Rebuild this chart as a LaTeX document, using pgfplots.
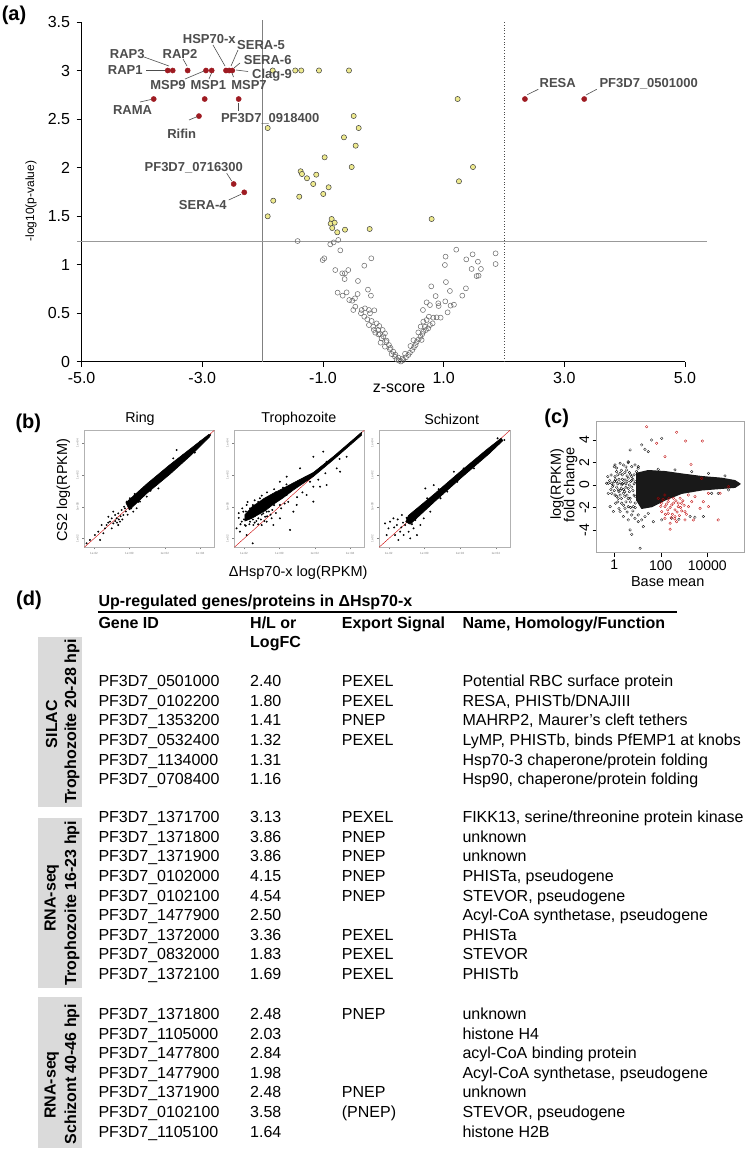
\documentclass[border=0pt]{standalone}
\usepackage{fontspec}
\setmainfont{Liberation Sans}
\usepackage{pgfplots}
\pgfplotsset{compat=1.18}
\definecolor{dred}{HTML}{9E1B22}
\definecolor{ylw}{HTML}{EEEA8E}
\definecolor{lblgray}{HTML}{4D4D4D}
\definecolor{boxgray}{HTML}{DADADA}
\newcommand{\fs}[1]{\fontsize{#1}{#1}\selectfont}
\newcommand{\lab}[3]{\node[font=\bfseries\fs{13}, text=lblgray, inner sep=0pt] at (#1pt,-#2pt) {#3};}
\newcommand{\lline}[4]{\draw[lblgray, line width=0.6pt] (#1pt,-#2pt) -- (#3pt,-#4pt);}
\newcommand{\trow}[5]{%
 \node[anchor=base west, font=\fs{16}, inner sep=0pt] at (98.3pt,-#1pt) {#2};
 \node[anchor=base west, font=\fs{16}, inner sep=0pt] at (250pt,-#1pt) {#3};
 \node[anchor=base west, font=\fs{16}, inner sep=0pt] at (341.7pt,-#1pt) {#4};
 \node[anchor=base west, font=\fs{16}, inner sep=0pt] at (462.3pt,-#1pt) {#5};}
\pgfplotsset{scat/.style={scale only axis, width=130pt, height=117pt,
  xmin=-2.55, xmax=4.8, ymin=-2.55, ymax=4.8,
  axis line style={gray!60, line width=0.6pt},
  xtick={-2,0,2,4}, ytick={-2,0,2,4},
  xticklabels={1e-02,1e+00,1e+02,1e+04}, yticklabels={1e-02,1e+00,1e+02,1e+04},
  tick align=outside, major tick length=2pt, tick style={gray, line width=0.4pt},
  tick pos=left, tick label style={font=\fs{3}, text=gray},
  yticklabel style={rotate=90, anchor=south},
  clip=true},
  band/.style={fill=black, draw=black, line width=0.6pt, line join=round},
  dots/.style={only marks, mark=*, mark size=0.75pt, black}}
\begin{document}
\begin{tikzpicture}
\path[use as bounding box] (0pt,0pt) rectangle (750pt,-1151pt);

% ---------------- (a) ----------------
\begin{axis}[at={(81.6pt,-361.5pt)}, anchor=south west, scale only axis,
  width=603.4pt, height=339.5pt, xmin=-5, xmax=5, ymin=0, ymax=3.5,
  axis x line*=bottom, axis y line*=left, axis line style={-, line width=0.8pt},
  clip=false,
  xtick={-5,-3,-1,1,3,5}, xticklabels={-5.0,-3.0,-1.0,1.0,3.0,5.0},
  ytick={0,0.5,1,1.5,2,2.5,3,3.5}, yticklabels={0,0.5,1,1.5,2,2.5,3,3.5},
  tick align=outside, major tick length=5pt, tick style={line width=0.8pt, black},
  tick label style={font=\fs{16}}, xticklabel style={yshift=-2pt}, yticklabel style={xshift=-3pt}]
\draw[gray, line width=0.6pt] (axis cs:-2,0) -- (axis cs:-2,3.52);
\draw[black!70, dotted, line width=0.8pt] (axis cs:2,0) -- (axis cs:2,3.52);
\draw[gray!80, line width=0.6pt] (axis cs:-5.07,1.242) -- (axis cs:5.37,1.242);
\addplot[only marks, mark=o, mark size=2.5pt, mark options={draw=black!60, fill=white, line width=0.5pt}] coordinates {
(-1.420,1.242)(-0.879,1.208)(-0.823,1.228)(-0.746,1.253)(-0.713,1.146)(-1.005,1.046)(-0.978,1.064)(-0.796,0.943)(-0.680,0.909)(-0.636,0.909)(-0.580,0.943)(-0.641,0.850)(-0.420,0.830)(-0.315,0.988)(-0.199,1.064)(-0.757,0.710)(-0.674,0.679)(-0.608,0.713)(-0.564,0.634)(-0.514,0.627)(-0.470,0.651)(-0.426,0.696)(-0.254,0.741)(-0.205,0.679)(-0.497,0.531)(-0.464,0.565)(-0.359,0.531)(-0.304,0.548)(-0.238,0.531)(-0.149,0.528)(-0.370,0.497)(-0.315,0.462)(-0.221,0.497)(-0.265,0.435)(-0.194,0.418)(-0.111,0.393)(-0.166,0.359)(-0.067,0.366)(-0.238,0.376)(-0.155,0.325)(-0.083,0.325)(-0.011,0.325)(-0.133,0.297)(-0.056,0.283)(0.027,0.290)(-0.028,0.239)(0.055,0.215)(-0.045,0.194)(0.094,0.170)(0.027,0.153)(0.110,0.125)(0.165,0.101)(0.138,0.077)(0.193,0.050)(0.221,0.022)(0.259,0.009)(0.292,0.0)
(0.331,0.015)(0.375,0.043)(0.414,0.067)(0.441,0.091)(0.480,0.118)(0.508,0.146)(0.535,0.170)(0.552,0.201)(0.585,0.228)(0.618,0.256)(0.646,0.283)(0.663,0.308)(0.707,0.325)(0.745,0.342)(0.690,0.359)(0.773,0.376)(0.817,0.393)(0.635,0.222)(0.663,0.411)(0.718,0.428)(0.756,0.462)(0.828,0.452)(0.884,0.455)(0.950,0.452)(0.657,0.531)(0.718,0.610)(0.773,0.582)(0.867,0.675)(0.911,0.600)(0.917,0.572)(0.795,0.775)(1.038,0.819)(1.027,0.620)(1.104,0.727)(1.115,0.576)(1.171,0.586)(1.066,0.507)(1.309,0.679)(1.369,0.754)(1.021,0.995)(1.032,1.081)(1.209,1.153)(1.375,1.053)(1.480,1.105)(1.568,1.029)(1.618,0.954)(1.463,0.954)(1.546,0.881)(1.579,0.885)(1.861,1.115)(1.861,1.005)
(0.25,0.04)(0.32,0.03)(0.20,0.07)(0.36,0.08)(0.12,0.14)(0.45,0.16)(0.05,0.20)(0.50,0.22)(0.00,0.26)(0.58,0.30)(-0.08,0.28)(0.62,0.36)
};
\addplot[only marks, mark=*, mark size=2.6pt, mark options={draw=black!75, fill=ylw, line width=0.5pt}] coordinates {
(-1.833,3.0)(-1.459,3.0)(-1.36,3.0)(-1.066,3.0)(-0.569,3.0)(1.232,2.706)(-0.491,2.531)(-0.408,2.407)(-1.916,2.407)(-0.652,2.311)(-0.458,2.225)(-0.972,2.105)(-0.524,2.005)(1.486,2.005)(1.254,1.858)(-1.37,1.961)(-1.348,1.933)(-1.265,1.889)(-1.111,1.926)(-1.161,1.830)(-0.906,1.796)(-0.995,1.727)(-1.393,1.699)(-1.824,1.658)(-1.916,1.497)(-0.856,1.469)(-0.872,1.421)(-0.806,1.431)(-0.846,1.376)(-0.763,1.332)(-0.635,1.359)(-0.226,1.366)(0.801,1.469)
};
\addplot[only marks, mark=*, mark size=2.6pt, mark options={draw=dred, fill=dred}] coordinates {
(-3.573,3.0)(-3.49,3.0)(-3.242,3.0)(-2.939,3.0)(-2.844,3.0)(-2.607,3.0)(-2.555,3.0)(-2.503,3.0)(-3.805,2.706)(-2.96,2.706)(-2.397,2.706)(-3.055,2.53)(-2.48,1.83)(-2.304,1.744)(2.347,2.706)(3.33,2.706)
};
\end{axis}
\node[font=\fs{12}, rotate=90] at (31pt,-201pt) {-log10(p-value)};
\node[font=\fs{16}] at (399pt,-388.5pt) {z-score};
% point labels
\lab{127.3}{54}{RAP3} \lline{144}{57}{169}{66}
\lab{125.3}{70}{RAP1} \lline{146}{70}{165}{70}
\lab{180}{54}{RAP2} \lline{183}{59}{187}{66}
\lab{209.3}{39}{HSP70-x} \lline{213}{45}{225}{66}
\lab{261}{44.7}{SERA-5} \lline{238}{50}{231}{66}
\lab{267.7}{60.3}{SERA-6} \lline{240}{63}{234}{68}
\lab{272}{75.3}{Clag-9} \lline{248}{71.5}{236}{70}
\lab{168}{85}{MSP9} \lline{185}{79}{204}{71}
\lab{208.3}{85}{MSP1} \lline{209}{79}{211.5}{73}
\lab{249}{85}{MSP7} \lline{233.5}{77}{232}{73}
\lab{132.5}{110.3}{RAMA} \lline{140}{102}{151}{99.5}
\lab{181.7}{133.3}{Rifin} \lline{189}{120}{197}{116.7}
\lab{270.2}{119}{PF3D7\_0918400} \lline{238.7}{103}{238.7}{111}
\lab{193.8}{167.7}{PF3D7\_0716300} \lline{226.7}{173.3}{231.7}{181}
\lab{202.8}{205.3}{SERA-4} \lline{228.7}{200}{241}{194.3}
\lab{557.7}{83}{RESA} \lline{527.3}{94.7}{538.3}{89.3}
\lab{648.7}{83.7}{PF3D7\_0501000} \lline{586}{95}{596.7}{89.3}

% ---------------- (b) ----------------
\begin{axis}[scat, at={(84.3pt,-547.3pt)}, anchor=south west]
\addplot[red!80!black, line width=0.4pt] coordinates {(-2.55,-2.55)(4.8,4.8)};
\addplot[band] coordinates {
(-0.2,0.25)(1.0,1.45)(2.3,2.65)(3.4,3.6)(4.5,4.55)(4.55,4.4)(3.5,3.25)(2.3,2.05)(1.0,0.85)(0.0,-0.2)(-0.2,0.25)};
\addplot[dots] coordinates {
(-1.95,-1.78)(-1.76,-1.57)(-1.66,-2.09)(-1.38,-1.36)(-1.29,-1.15)(-1.10,-0.94)(-1.00,-1.36)(-0.91,-1.05)(-0.72,-0.73)(-0.63,-0.42)(-0.53,-0.94)(-0.81,-0.52)(-0.44,-0.21)(-0.34,-0.52)(-0.25,-0.10)(-1.47,-1.67)(-1.19,-0.63)(-0.91,-0.31)(-0.63,-1.15)(-1.57,-1.15)(-1.00,-0.73)(-0.15,0.32)(0.03,0.53)(0.22,-0.31)(0.41,-0.10)(0.60,0.32)(0.79,0.95)(0.98,0.63)(1.54,1.57)(1.92,2.20)(2.48,3.04)(2.67,3.56)(3.05,3.25)(1.64,1.15)(2.01,1.89)(3.24,3.35)(3.80,3.88)(4.18,4.19)(4.56,4.50)(-2.23,-2.09)(-2.42,-2.30)
(-0.5,-0.6)(-0.4,-0.8)(-0.2,-0.3)(-0.1,-0.5)(-0.6,-0.8)(-0.3,0.0)(-0.8,-0.9)(-1.2,-1.0)(-0.7,-1.0)(0.1,-0.1)(0.5,0.3)(1.3,1.6)(1.7,1.7)(2.6,2.5)(3.0,3.0)(3.7,3.4)(4.0,4.1)(1.2,1.0)(2.1,2.3)(0.3,0.8)};
\end{axis}
\begin{axis}[scat, at={(234.3pt,-547.3pt)}, anchor=south west]
\addplot[red!80!black, line width=0.4pt] coordinates {(-2.55,-2.55)(4.8,4.8)};
\addplot[band] coordinates {
(-1.95,-0.5)(-1.7,-0.2)(-1.5,0.05)(-1.2,0.25)(-0.9,0.5)(-0.5,0.75)(-0.34,0.85)(0.2,1.15)(0.79,1.5)(1.92,2.15)(3.05,3.15)(4.65,4.68)(4.65,4.5)(3.05,2.95)(1.92,1.9)(0.79,1.05)(0.2,0.55)(-0.34,0.15)(-0.8,-0.25)(-1.2,-0.5)(-1.6,-0.75)(-1.95,-0.9)(-1.95,-0.5)};
\addplot[dots] coordinates {
(-2.42,-1.36)(-2.23,-1.57)(-1.85,-1.78)(-1.51,-2.30)(-1.00,-1.15)(-0.72,-0.94)(-0.34,-1.15)(0.03,-0.73)(0.60,-1.46)(0.79,-0.31)(1.92,0.32)(2.30,1.26)(2.67,1.36)(1.73,1.57)(1.17,2.41)(0.41,1.89)(0.03,1.57)(1.92,3.14)(2.48,3.46)(2.67,2.83)(-0.72,-0.31)(-1.47,-1.15)(-1.95,-1.15)(-1.66,-0.10)(-1.10,0.53)(0.03,0.11)(0.98,0.11)(1.54,0.74)(3.24,2.41)(3.43,2.20)(3.80,3.14)(1.92,1.26)(0.41,0.74)(-0.44,-0.73)
(-2.04,-0.31)(-1.76,-0.63)(-1.47,-0.31)(-1.19,-0.73)(-0.91,-0.42)(-0.63,0.00)(-2.13,-0.94)(-1.85,0.11)(-1.38,0.00)(-1.00,0.00)(-0.81,-0.63)(-0.53,0.21)(-0.15,0.63)(-1.66,-0.94)
(-1.9,-0.3)(-1.7,-0.7)(-1.3,-0.2)(-1.1,0.1)(-0.9,0.2)(-0.6,0.5)(-0.2,0.9)(0.2,1.2)(-0.4,-0.2)(0.1,-0.1)(0.5,0.3)(1.0,0.6)(1.3,0.9)(2.2,1.7)(2.6,2.1)(3.4,3.0)(-2.2,-1.1)(-1.5,-0.8)
(-1.8,-0.5)(-1.6,-0.4)(-1.4,-0.6)(-1.2,-0.4)(-1.0,-0.5)(-0.8,-0.2)(-0.6,-0.3)(-0.5,-0.5)(-1.7,-1.1)(-1.3,-0.9)(-1.1,-0.2)(-0.9,0.0)(-0.7,0.2)(-1.5,0.1)(-1.2,0.3)(-2.0,-0.8)(-2.3,-0.7)(-1.9,-1.2)(-1.4,-1.0)(-0.7,-0.6)(-0.3,0.1)(-1.6,-0.7)(-1.05,-0.8)(-0.85,-0.9)
(-2.1,-0.1)(-1.8,0.3)(-1.4,0.4)(-1.0,0.7)(-0.7,0.9)(-0.3,1.1)(0.4,1.4)(-2.3,-0.4)(-1.2,-1.1)(-0.2,-0.4)(0.3,0.2)};
\end{axis}
\begin{axis}[scat, width=131pt, at={(379pt,-547.3pt)}, anchor=south west]
\addplot[red!80!black, line width=0.4pt] coordinates {(-2.55,-2.55)(4.8,4.8)};
\addplot[band] coordinates {
(-0.9,-0.55)(0.5,0.75)(2.0,2.2)(3.5,3.6)(4.3,4.3)(4.4,4.15)(3.6,3.3)(2.1,1.85)(0.6,0.35)(-0.8,-1.1)(-1.05,-0.95)(-0.9,-0.55)};
\addplot[dots] coordinates {
(-2.21,-1.05)(-2.02,-1.36)(-1.74,-0.73)(-1.55,-1.15)(-1.36,-1.57)(-1.65,-1.78)(-1.93,-0.94)(-1.27,-0.52)(-1.08,-1.15)(-0.89,-1.57)(-0.61,-1.36)(-0.51,-0.84)(-2.12,-1.78)(-1.46,-2.09)(-0.80,-1.99)(-0.42,-1.78)(-1.17,-1.78)(-0.23,-1.15)(-0.04,-0.73)(0.33,-0.31)(0.15,0.53)(0.52,1.36)(1.28,0.95)(1.65,2.20)(0.05,1.15)(0.90,0.53)(1.84,1.57)(2.78,2.41)(3.16,3.04)(3.92,3.88)(4.10,4.30)(4.48,4.19)
(-1.5,-0.8)(-1.2,-1.0)(-1.0,-0.7)(-1.7,-1.3)(-0.7,-1.1)(-0.3,-0.5)(0.0,0.0)(0.4,0.2)(1.0,0.8)(1.5,1.6)(2.5,2.3)(3.0,2.8)(-1.3,-1.3)(-0.6,-0.6)(0.8,1.1)(2.2,2.4)};
\end{axis}
\node[font=\fs{14.3}] at (140pt,-419pt) {Ring};
\node[font=\fs{14.3}] at (298.8pt,-419pt) {Trophozoite};
\node[font=\fs{14.3}] at (451.7pt,-419pt) {Schizont};
\node[font=\fs{14.5}, rotate=90] at (63.3pt,-490pt) {CS2 log(RPKM)};
\node[font=\fs{14.5}] at (298.3pt,-572.3pt) {ΔHsp70-x log(RPKM)};

% ---------------- (c) ----------------
\begin{axis}[at={(596.7pt,-552.7pt)}, anchor=south west, scale only axis,
  width=147.3pt, height=131pt, xmin=-0.757, xmax=5.58, ymin=-6, ymax=5.6,
  axis line style={gray!70, line width=0.6pt},
  xtick={0,2,4}, xticklabels={1,100,10000},
  ytick={-4,-2,0,2,4}, yticklabels={-4,-2,0,2,4},
  tick pos=left, tick align=outside, major tick length=4pt, tick style={black, line width=0.5pt},
  tick label style={font=\fs{14}}, yticklabel style={rotate=90, anchor=south}, clip=true]
\addplot[fill=black!90, draw=black!90, line width=1.2pt, line join=round] coordinates {
(0.96,-1.33)(0.96,1.03)(1.46,1.27)(2.18,1.18)(2.90,0.97)(3.76,0.74)(4.62,0.59)(5.19,0.38)(5.41,0.09)(5.19,-0.21)(4.62,-0.30)(3.76,-0.44)(2.90,-0.74)(2.18,-1.33)(1.61,-1.92)(1.18,-2.07)(0.96,-1.33)};
\addplot[only marks, mark=o, mark size=1.3pt, mark options={black, line width=0.3pt}] coordinates {
(-0.26,0.15)(-0.08,-0.15)(0.03,0.74)(0.10,0.29)(0.17,-0.44)(0.25,1.03)(0.32,0.00)(0.39,-0.74)(0.46,0.44)(0.53,1.33)(0.60,-0.30)(0.68,-1.18)(0.75,0.74)(0.82,-1.92)(0.32,-1.62)(0.17,-1.18)(0.03,-0.89)(-0.11,-0.74)(-0.18,-1.92)(-0.04,-2.36)(0.25,-2.36)(0.39,-2.80)(0.60,-3.10)(0.75,-2.66)(0.89,-2.95)(1.03,-3.25)(1.18,-3.10)(1.32,-2.80)(1.46,-2.51)(0.25,1.92)(0.39,1.77)(0.60,1.98)(0.75,1.62)(0.10,1.18)(0.00,1.62)(-0.14,0.88)(-0.28,0.74)(-0.26,-0.74)(0.60,-1.92)(0.46,-2.07)(0.06,-1.62)(1.03,-2.66)(1.25,-3.69)(1.68,-3.25)(2.04,-3.10)(2.47,-2.95)(2.78,-3.04)(3.26,-2.80)(3.47,-2.86)(3.83,-2.80)(4.19,-0.74)(4.47,-0.74)(4.91,-0.44)(1.89,1.39)(2.61,1.33)(3.33,1.18)(4.05,1.03)(4.76,0.80)(1.03,1.48)(0.89,1.77)(0.03,1.77)(-0.33,0.15)(-0.11,0.15)(0.68,-3.98)(0.75,-4.37)(1.11,-5.61)(0.68,3.10)(1.18,3.54)(1.32,3.16)(1.46,2.95)(2.04,4.13)(1.61,3.98)(0.60,2.07)(1.03,1.62)
(0.2,0.5)(0.4,0.2)(0.5,-0.2)(0.7,0.3)(0.8,-0.5)(0.85,0.9)(0.3,-0.3)(0.55,0.8)(0.45,-1.0)(0.7,-1.5)(0.9,-1.0)(0.15,-1.5)(0.5,-1.5)(0.35,0.9)(0.65,1.1)(0.9,0.3)(0.1,-0.2)(0.0,0.3)(0.25,-0.9)(0.55,-2.4)
(-0.2,0.4)(-0.15,-0.4)(-0.05,0.0)(0.0,-0.5)(0.05,0.5)(0.1,-1.0)(0.15,0.9)(0.2,-0.6)(0.25,0.2)(0.3,-1.2)(0.35,0.5)(0.4,-0.4)(0.45,1.1)(0.5,0.1)(0.55,-0.9)(0.6,0.6)(0.65,-0.6)(0.7,0.9)(0.75,-0.2)(0.8,0.5)(0.85,-0.9)(0.9,-1.6)(0.95,1.2)(0.3,1.3)(0.5,1.6)(0.7,-2.0)(0.4,-1.8)(0.2,-2.1)(0.8,-2.3)(0.9,-2.0)(0.1,1.5)(0.65,0.0)(0.45,-0.6)(0.25,-0.5)(0.35,0.1)(0.85,0.1)(0.15,0.1)(0.55,0.3)(0.75,0.4)(0.6,-1.2)};
\addplot[only marks, mark=o, mark size=1.3pt, mark options={red!75!black, line width=0.3pt}] coordinates {
(1.39,5.16)(2.68,4.66)(3.07,3.89)(3.79,3.89)(1.82,3.69)(2.18,2.51)(3.30,1.83)(3.76,0.59)(1.89,-1.18)(2.04,-1.62)(2.18,-1.92)(2.32,-1.48)(2.47,-1.77)(2.61,-2.21)(2.75,-1.92)(2.90,-1.62)(2.32,-2.51)(2.61,-2.80)(2.04,-2.36)(2.18,-2.95)(3.04,-2.36)(3.19,-1.92)(3.33,-1.48)(2.54,-1.18)(2.83,-1.18)(3.04,-3.10)(2.40,-3.39)(2.68,-3.25)(3.40,-3.10)(2.18,-0.89)(3.19,-0.89)(3.47,-1.03)(3.69,-2.07)(3.83,-1.48)(4.05,-1.92)(4.47,-3.10)(2.40,-3.92)(4.55,-0.74)(4.05,-0.74)(4.91,-0.15)
(2.25,-1.7)(2.4,-2.0)(2.55,-1.6)(2.7,-2.4)(2.85,-2.0)(2.5,-2.6)(2.3,-2.2)(2.95,-1.4)(2.65,-1.4)(2.45,-2.9)(2.1,-1.3)(2.0,-1.9)(2.8,-2.7)(3.1,-2.6)(2.6,-3.0)(2.35,-1.2)(2.75,-1.6)(3.0,-1.8)(2.2,-2.6)(2.9,-2.3)};
\end{axis}
\node[font=\fs{14.5}] at (667.7pt,-581.7pt) {Base mean};
\node[font=\fs{14.5}, rotate=90] at (557pt,-484pt) {log(RPKM)};
\node[font=\fs{14.5}, rotate=90] at (570.5pt,-485pt) {fold change};

% panel letters
\node[font=\bfseries\fs{20}] at (14pt,-15.8pt) {(a)};
\node[font=\bfseries\fs{20}] at (28.3pt,-423pt) {(b)};
\node[font=\bfseries\fs{20}] at (556.7pt,-418.3pt) {(c)};
\node[font=\bfseries\fs{20}] at (29pt,-600pt) {(d)};

% ---------------- (d) table ----------------
\node[anchor=base west, font=\bfseries\fs{16}, inner sep=0pt] at (98.3pt,-606pt) {Up-regulated genes/proteins in ΔHsp70-x};
\draw[line width=1.3pt] (98.3pt,-612pt) -- (676.7pt,-612pt);
\node[anchor=base west, font=\bfseries\fs{16}, inner sep=0pt] at (98.3pt,-628.4pt) {Gene ID};
\node[anchor=base west, font=\bfseries\fs{16}, inner sep=0pt] at (250pt,-628.4pt) {H/L or};
\node[anchor=base west, font=\bfseries\fs{16}, inner sep=0pt] at (250pt,-647pt) {LogFC};
\node[anchor=base west, font=\bfseries\fs{16}, inner sep=0pt] at (341.7pt,-628.4pt) {Export Signal};
\node[anchor=base west, font=\bfseries\fs{16}, inner sep=0pt] at (462.3pt,-628.4pt) {Name, Homology/Function};

\fill[boxgray] (38.3pt,-636.7pt) rectangle (81.7pt,-806.7pt);
\fill[boxgray] (38.3pt,-818.3pt) rectangle (81.7pt,-987.7pt);
\fill[boxgray] (38.3pt,-996.7pt) rectangle (81.7pt,-1148.3pt);
\node[font=\bfseries\fs{16}, rotate=90] at (51.7pt,-724pt) {SILAC};
\node[font=\bfseries\fs{16}, rotate=90] at (72pt,-721.7pt) {Trophozoite 20-28 hpi};
\node[font=\bfseries\fs{16}, rotate=90] at (51.7pt,-898pt) {RNA-seq};
\node[font=\bfseries\fs{16}, rotate=90] at (72pt,-903pt) {Trophozoite 16-23 hpi};
\node[font=\bfseries\fs{16}, rotate=90] at (51.7pt,-1085pt) {RNA-seq};
\node[font=\bfseries\fs{16}, rotate=90] at (72pt,-1074pt) {Schizont 40-46 hpi};

\trow{686.7}{PF3D7\_0501000}{2.40}{PEXEL}{Potential RBC surface protein}
\trow{706.3}{PF3D7\_0102200}{1.80}{PEXEL}{RESA, PHISTb/DNAJIII}
\trow{725.9}{PF3D7\_1353200}{1.41}{PNEP}{MAHRP2, Maurer’s cleft tethers}
\trow{745.5}{PF3D7\_0532400}{1.32}{PEXEL}{LyMP, PHISTb, binds PfEMP1 at knobs}
\trow{765.1}{PF3D7\_1134000}{1.31}{}{Hsp70-3 chaperone/protein folding}
\trow{784.7}{PF3D7\_0708400}{1.16}{}{Hsp90, chaperone/protein folding}

\trow{822.7}{PF3D7\_1371700}{3.13}{PEXEL}{FIKK13, serine/threonine protein kinase}
\trow{842.3}{PF3D7\_1371800}{3.86}{PNEP}{unknown}
\trow{861.9}{PF3D7\_1371900}{3.86}{PNEP}{unknown}
\trow{881.5}{PF3D7\_0102000}{4.15}{PNEP}{PHISTa, pseudogene}
\trow{901.1}{PF3D7\_0102100}{4.54}{PNEP}{STEVOR, pseudogene}
\trow{920.7}{PF3D7\_1477900}{2.50}{}{Acyl-CoA synthetase, pseudogene}
\trow{940.3}{PF3D7\_1372000}{3.36}{PEXEL}{PHISTa}
\trow{959.9}{PF3D7\_0832000}{1.83}{PEXEL}{STEVOR}
\trow{979.5}{PF3D7\_1372100}{1.69}{PEXEL}{PHISTb}

\trow{1019.7}{PF3D7\_1371800}{2.48}{PNEP}{unknown}
\trow{1039.2}{PF3D7\_1105000}{2.03}{}{histone H4}
\trow{1058.8}{PF3D7\_1477800}{2.84}{}{acyl-CoA binding protein}
\trow{1078.3}{PF3D7\_1477900}{1.98}{}{Acyl-CoA synthetase, pseudogene}
\trow{1097.9}{PF3D7\_1371900}{2.48}{PNEP}{unknown}
\trow{1117.4}{PF3D7\_0102100}{3.58}{(PNEP)}{STEVOR, pseudogene}
\trow{1137.0}{PF3D7\_1105100}{1.64}{}{histone H2B}
\end{tikzpicture}
\end{document}
